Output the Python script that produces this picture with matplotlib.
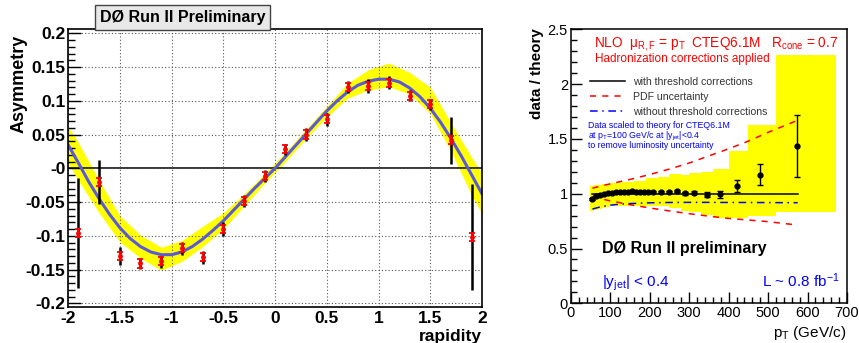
import numpy as np
import matplotlib
matplotlib.use("Agg")
import matplotlib.pyplot as plt
from matplotlib.ticker import MultipleLocator, FixedLocator, FixedFormatter

plt.rcParams['font.family'] = ['Liberation Sans', 'DejaVu Sans']
plt.rcParams['mathtext.fontset'] = 'custom'
plt.rcParams['mathtext.rm'] = 'Liberation Sans'
plt.rcParams['mathtext.it'] = 'Liberation Sans'
plt.rcParams['mathtext.bf'] = 'Liberation Sans:bold'

# ---- left panel: asymmetry vs rapidity ----
rap = [-1.9, -1.7, -1.5, -1.3, -1.1, -0.9, -0.7, -0.5, -0.3, -0.1,
       0.1, 0.3, 0.5, 0.7, 0.9, 1.1, 1.3, 1.5, 1.7, 1.9]
asym = [-0.096, -0.020, -0.130, -0.141, -0.138, -0.118, -0.132, -0.090, -0.048, -0.011,
        0.028, 0.050, 0.073, 0.121, 0.122, 0.127, 0.107, 0.095, 0.042, -0.102]
err_tot_lo = [0.082, 0.033, 0.014, 0.008, 0.009, 0.010, 0.010, 0.010, 0.009, 0.009,
              0.009, 0.009, 0.010, 0.009, 0.010, 0.009, 0.008, 0.009, 0.035, 0.079]
err_tot_hi = [0.081, 0.032, 0.014, 0.008, 0.008, 0.009, 0.010, 0.010, 0.009, 0.008,
              0.008, 0.009, 0.009, 0.009, 0.010, 0.009, 0.009, 0.008, 0.034, 0.079]
err_stat = [0.006] * 20

curve_x = [-2.0, -1.9, -1.8, -1.7, -1.6, -1.5, -1.4, -1.3, -1.2, -1.1, -1.0,
           -0.9, -0.8, -0.7, -0.6, -0.5, -0.4, -0.3, -0.2, -0.1, 0.0,
           0.1, 0.2, 0.3, 0.4, 0.5, 0.6, 0.7, 0.8, 0.9, 1.0,
           1.1, 1.2, 1.3, 1.4, 1.5, 1.6, 1.7, 1.8, 1.9, 2.0]
curve_y = [0.035, 0.008, -0.020, -0.045, -0.068, -0.088, -0.104, -0.116, -0.124, -0.128, -0.128,
           -0.124, -0.116, -0.105, -0.092, -0.078, -0.062, -0.046, -0.030, -0.015, 0.000,
           0.017, 0.034, 0.051, 0.068, 0.085, 0.100, 0.113, 0.123, 0.129, 0.132,
           0.132, 0.128, 0.119, 0.106, 0.089, 0.068, 0.044, 0.018, -0.010, -0.038]

band_x = [-2.0, -1.9, -1.7, -1.5, -1.3, -1.1, -0.9, -0.7, -0.5, -0.3, -0.1,
          0.1, 0.3, 0.5, 0.7, 0.9, 1.1, 1.3, 1.5, 1.7, 1.9, 2.0]
band_hi = [0.062, 0.038, -0.018, -0.070, -0.099, -0.117, -0.107, -0.086, -0.066, -0.038, -0.008,
           0.024, 0.058, 0.092, 0.126, 0.146, 0.156, 0.142, 0.120, 0.067, 0.016, -0.008]
band_lo = [0.008, -0.018, -0.066, -0.109, -0.133, -0.151, -0.138, -0.116, -0.090, -0.056, -0.022,
           0.010, 0.044, 0.076, 0.104, 0.116, 0.121, 0.110, 0.081, 0.025, -0.040, -0.068]

# ---- right panel: data / theory vs pT ----
pt = [54, 64, 74, 84, 94, 105, 115, 125, 135, 145, 155, 165, 175, 185, 195,
      208, 229, 249, 269, 289, 312, 344, 378, 422, 480, 573]
ratio = [0.952, 0.982, 0.990, 0.994, 1.006, 1.006, 1.018, 1.015, 1.013, 1.018, 1.022,
         1.018, 1.018, 1.015, 1.015, 1.018, 1.013, 1.013, 1.025, 1.003, 1.008, 0.992,
         0.995, 1.070, 1.175, 1.435]
ratio_err = [0.006, 0.005, 0.005, 0.005, 0.005, 0.005, 0.005, 0.005, 0.005, 0.005, 0.006,
             0.006, 0.006, 0.006, 0.007, 0.007, 0.008, 0.009, 0.010, 0.012, 0.014, 0.022,
             0.032, 0.052, 0.100, 0.280]

sys_edges = [50, 60, 70, 80, 90, 100, 110, 130, 160, 190, 220, 250, 280, 300, 330, 360,
             400, 450, 520, 672]
sys_hi = [1.070, 1.075, 1.080, 1.085, 1.090, 1.095, 1.100, 1.110, 1.120, 1.140, 1.150,
          1.180, 1.170, 1.190, 1.200, 1.230, 1.390, 1.625, 2.265]
sys_lo = [0.842, 0.855, 0.865, 0.870, 0.880, 0.885, 0.890, 0.890, 0.890, 0.890, 0.885,
          0.867, 0.840, 0.836, 0.806, 0.776, 0.776, 0.797, 0.836]

th_pt = [55, 75, 100, 125, 150, 200, 250, 300, 350, 400, 450, 500, 575]
pdf_hi = [1.05, 1.07, 1.09, 1.11, 1.13, 1.175, 1.225, 1.28, 1.345, 1.41, 1.48, 1.56, 1.67]
pdf_lo = [0.975, 0.955, 0.935, 0.918, 0.900, 0.870, 0.843, 0.818, 0.795, 0.775, 0.760, 0.745, 0.714]
no_thr = [0.860, 0.880, 0.895, 0.905, 0.910, 0.917, 0.920, 0.921, 0.921, 0.920, 0.920, 0.919, 0.918]
with_thr = [1.0] * len(th_pt)

fig = plt.figure(figsize=(8.59, 3.43), dpi=100)

# left panel
ax = fig.add_axes([0.0792, 0.105, 0.482, 0.8105])
ax.fill_between(band_x, band_lo, band_hi, color='#ffff00', lw=0, zorder=1)
ax.plot(curve_x, curve_y, color='#5a5ad8', lw=2.2, zorder=2)
ax.axhline(0, color='black', lw=1.1, zorder=1.5)
ax.errorbar(rap, asym, yerr=[err_tot_lo, err_tot_hi], fmt='none', ecolor='black',
            elinewidth=1.8, capsize=0, zorder=3)
ax.errorbar(rap, asym, yerr=err_stat, fmt='o', ms=2.5, color='red', ecolor='red',
            elinewidth=1.5, capsize=2.5, capthick=1.3, zorder=4)
ax.set_xlim(-2, 2)
ax.set_ylim(-0.2055, 0.2064)
yt = [-0.2, -0.15, -0.1, -0.05, 0.0, 0.05, 0.1, 0.15, 0.2]
ax.yaxis.set_major_locator(FixedLocator(yt))
ax.yaxis.set_major_formatter(FixedFormatter(['-0.2', '-0.15', '-0.1', '-0.05', '-0',
                                             '0.05', '0.1', '0.15', '0.2']))
ax.yaxis.set_minor_locator(MultipleLocator(0.01))
xt = [-2, -1.5, -1, -0.5, 0, 0.5, 1, 1.5, 2]
ax.xaxis.set_major_locator(FixedLocator(xt))
ax.xaxis.set_major_formatter(FixedFormatter(['-2', '-1.5', '-1', '-0.5', '0', '0.5',
                                             '1', '1.5', '2']))
ax.grid(True, which='major', color='#555555', ls=(0, (1, 2)), lw=0.8)
ax.tick_params(axis='y', which='major', direction='in', length=9, width=1, labelsize=12.5, pad=2)
ax.tick_params(axis='y', which='minor', direction='in', length=5, width=1)
ax.tick_params(axis='x', which='major', direction='in', length=0, labelsize=12.5, pad=3)
for lab in ax.get_xticklabels() + ax.get_yticklabels():
    lab.set_fontweight('bold')
for sp in ax.spines.values():
    sp.set_linewidth(1.2)

fig.text(0.0227, 0.898, 'Asymmetry', rotation=90, ha='center', va='top',
         fontsize=13, fontweight='bold')
fig.text(482 / 859, 1 - 328.5 / 343, 'rapidity', ha='right', va='top',
         fontsize=12.5, fontweight='bold')
fig.text(0.2125, 1 - 17.5 / 343, 'DØ Run II Preliminary', ha='center', va='center',
         fontsize=11.5, fontweight='bold',
         bbox=dict(boxstyle='square,pad=0.3', fc='#e8e8e8', ec='#444444', lw=1))

# right panel
ax2 = fig.add_axes([0.6644, 0.1157, 0.3217, 0.7988])
ax2.fill_between(sys_edges, sys_lo + [sys_lo[-1]], sys_hi + [sys_hi[-1]], step='post',
                 color='#ffff00', lw=0, zorder=1)
l1, = ax2.plot(th_pt, with_thr, color='black', lw=1.1, zorder=2)
l2, = ax2.plot(th_pt, pdf_hi, color='red', lw=1.1, ls=(0, (4, 4)), zorder=2)
ax2.plot(th_pt, pdf_lo, color='red', lw=1.1, ls=(0, (4, 4)), zorder=2)
l3, = ax2.plot(th_pt, no_thr, color='blue', lw=1.1, ls=(0, (5, 3, 1, 3)), zorder=2)
ax2.errorbar(pt, ratio, yerr=ratio_err, fmt='o', ms=3.5, color='black', ecolor='black',
             elinewidth=1, capsize=2, capthick=1, zorder=3)
ax2.set_xlim(0, 700)
ax2.set_ylim(0, 2.5)
ax2.xaxis.set_major_locator(MultipleLocator(100))
ax2.xaxis.set_minor_locator(MultipleLocator(20))
ax2.yaxis.set_major_locator(FixedLocator([0, 0.5, 1, 1.5, 2, 2.5]))
ax2.yaxis.set_major_formatter(FixedFormatter(['0', '0.5', '1', '1.5', '2', '2.5']))
ax2.yaxis.set_minor_locator(MultipleLocator(0.1))
ax2.tick_params(which='major', direction='in', length=8, width=1, labelsize=10.5)
ax2.tick_params(which='minor', direction='in', length=4, width=1)
ax2.tick_params(axis='x', pad=2)
ax2.tick_params(axis='y', pad=2)
for sp in ax2.spines.values():
    sp.set_linewidth(1.1)

ax2.legend([l1, l2, l3], ['with threshold corrections', 'PDF uncertainty',
                          'without threshold corrections'],
           loc='upper left', bbox_to_anchor=(0.035, 0.86), frameon=False, fontsize=7.6,
           handlelength=3.3, handletextpad=0.8, labelspacing=0.45, labelcolor='#333333')

ax2.text(59, 2.34, r'NLO  $\mu_{R,F}$ = p$_T$  CTEQ6.1M   R$_{cone}$ = 0.7',
         color='red', fontsize=9.8, va='baseline', ha='left')
ax2.text(61.5, 2.20, 'Hadronization corrections applied', color='red', fontsize=8.5,
         va='baseline', ha='left')
ax2.text(44, 1.597, 'Data scaled to theory for CTEQ6.1M', color='blue', fontsize=6.3,
         va='baseline')
ax2.text(44, 1.505, r'at p$_T$=100 GeV/c at |y$_{jet}$|<0.4', color='blue', fontsize=6.3,
         va='baseline')
ax2.text(44, 1.414, 'to remove luminosity uncertainty', color='blue', fontsize=6.3,
         va='baseline')
ax2.text(79.5, 0.456, 'DØ Run II preliminary', fontsize=11.5, fontweight='bold',
         va='baseline')
ax2.text(79.5, 0.15, r'|y$_{jet}$| < 0.4', color='blue', fontsize=11, va='baseline')
ax2.text(682, 0.15, r'L ~ 0.8 fb$^{-1}$', color='blue', fontsize=11, va='baseline', ha='right')

fig.text(0.625, 0.918, 'data / theory', rotation=90, ha='center', va='top',
         fontsize=11, fontweight='bold')
fig.text(0.985, 1 - 324 / 343, r'p$_T$ (GeV/c)', ha='right', va='top', fontsize=11)

fig.savefig('out.png', dpi=100)
